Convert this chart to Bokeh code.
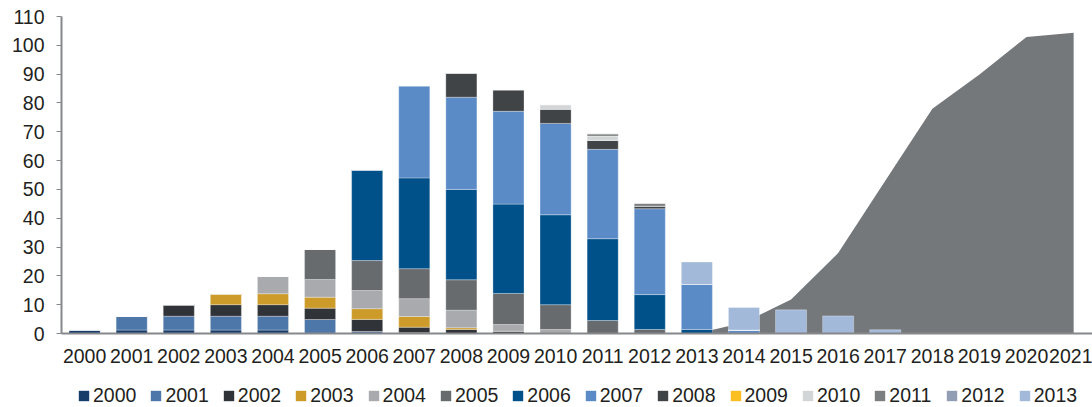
from bokeh.plotting import figure
from bokeh.models import ColumnDataSource, Range1d, FixedTicker, Legend
from bokeh.layouts import column
from bokeh.embed import file_html
from bokeh.resources import INLINE

years = [str(y) for y in range(2000, 2022)]
series = [str(y) for y in range(2000, 2014)]

s2000 = [1.3, 1.2, 1.2, 1.2, 1.2, 0, 0, 0, 0, 0, 0, 0, 0, 0, 0, 0, 0, 0, 0, 0, 0, 0]
s2001 = [0, 4.8, 4.8, 4.8, 4.8, 4.85, 0.7, 0.3, 0, 0, 0, 0, 0, 0, 0, 0, 0, 0, 0, 0, 0, 0]
s2002 = [0, 0, 4.0, 4.0, 4.0, 3.95, 4.2, 1.9, 1.4, 0.8, 0, 0, 0, 0, 0, 0, 0, 0, 0, 0, 0, 0]
s2003 = [0, 0, 0, 3.8, 3.8, 3.8, 3.7, 3.7, 0.6, 0, 0, 0, 0, 0, 0, 0, 0, 0, 0, 0, 0, 0]
s2004 = [0, 0, 0, 0, 6.0, 6.15, 6.3, 6.2, 6.1, 2.3, 1.4, 0, 0, 0, 0, 0, 0, 0, 0, 0, 0, 0]
s2005 = [0, 0, 0, 0, 0, 10.5, 10.4, 10.4, 10.55, 10.8, 8.6, 4.5, 1.4, 0, 0, 0, 0, 0, 0, 0, 0, 0]
s2006 = [0, 0, 0, 0, 0, 0, 31.5, 31.5, 31.35, 31.0, 31.2, 28.4, 12.1, 1.4, 0, 0, 0, 0, 0, 0, 0, 0]
s2007 = [0, 0, 0, 0, 0, 0, 0, 32.0, 32.0, 32.2, 31.7, 31.0, 29.8, 15.6, 1.2, 0, 0, 0, 0, 0, 0, 0]
s2008 = [0, 0, 0, 0, 0, 0, 0, 0, 8.4, 7.5, 4.9, 3.1, 0.9, 0, 0, 0, 0, 0, 0, 0, 0, 0]
s2009 = [0, 0, 0, 0, 0, 0, 0, 0, 0, 0, 0, 0, 0, 0, 0, 0, 0, 0, 0, 0, 0, 0]
s2010 = [0, 0, 0, 0, 0, 0, 0, 0, 0, 0, 1.6, 1.5, 0, 0, 0, 0, 0, 0, 0, 0, 0, 0]
s2011 = [0, 0, 0, 0, 0, 0, 0, 0, 0, 0, 0, 0.8, 1.0, 0, 0, 0, 0, 0, 0, 0, 0, 0]
s2012 = [0, 0, 0, 0, 0, 0, 0, 0, 0, 0, 0, 0, 0, 0, 0, 0, 0, 0, 0, 0, 0, 0]
s2013 = [0, 0, 0, 0, 0, 0, 0, 0, 0, 0, 0, 0, 0, 7.8, 7.8, 8.2, 6.1, 1.3, 0, 0, 0, 0]

area_years = [str(y) for y in range(2013, 2022)]
area_vals = [0, 3.8, 11.8, 27.9, 53.0, 78.0, 89.9, 102.9, 104.4]

colors = ["#173d6a", "#4d77a8", "#303337", "#cc9b29", "#a8aaad", "#686b6e",
          "#00508a", "#5b8bc7", "#414447", "#fbbf22", "#d2d5d6", "#7c7f80",
          "#919eb3", "#a3b9d9"]
area_color = "#75787b"
text_color = "#231f20"
axis_color = "#86888b"
FONT = "Liberation Sans"

data = {"x": list(range(len(years)))}
for name, vals in zip(series, [s2000, s2001, s2002, s2003, s2004, s2005, s2006,
                               s2007, s2008, s2009, s2010, s2011, s2012, s2013]):
    data[name] = vals
src = ColumnDataSource(data)

area_x = [years.index(y) for y in area_years]

MAIN_H = 370
p = figure(width=1092, height=MAIN_H, output_backend="svg", toolbar_location=None,
           x_range=Range1d(-0.49, 21.4), y_range=Range1d(0, 110),
           min_border_left=61, min_border_right=0, min_border_top=16,
           min_border_bottom=MAIN_H - 333)
p.outline_line_color = None
p.grid.visible = False

p.varea(x=area_x, y1=[0] * len(area_x), y2=area_vals, fill_color=area_color)

p.vbar_stack(series, x="x", width=0.66, source=src, color=colors,
             line_color="white", line_alpha=0.3, line_width=1)

xa = p.xaxis[0]
xa.ticker = FixedTicker(ticks=list(range(len(years))))
xa.major_label_overrides = {i: y for i, y in enumerate(years)}
xa.major_tick_line_color = None
xa.minor_tick_line_color = None
xa.axis_line_color = axis_color
xa.axis_line_width = 2
xa.major_label_text_font = FONT
xa.major_label_text_font_size = "19.5px"
xa.major_label_text_color = text_color
xa.major_label_standoff = 9

ya = p.yaxis[0]
ya.ticker = FixedTicker(ticks=list(range(0, 111, 10)))
ya.minor_tick_line_color = None
ya.major_tick_in = 0
ya.major_tick_out = 5
ya.major_tick_line_color = axis_color
ya.major_tick_line_width = 1
ya.axis_line_color = axis_color
ya.axis_line_width = 2
ya.major_label_text_font = FONT
ya.major_label_text_font_size = "19.5px"
ya.major_label_text_color = text_color
ya.major_label_standoff = 12

# legend strip below the chart
leg_fig = figure(width=1092, height=407 - MAIN_H, output_backend="svg",
                 toolbar_location=None, x_range=Range1d(0, 1), y_range=Range1d(0, 1),
                 x_axis_type=None, y_axis_type=None,
                 min_border_left=0, min_border_right=0, min_border_top=0,
                 min_border_bottom=0)
leg_fig.grid.visible = False
leg_fig.outline_line_color = None
items = []
for name, c in zip(series, colors):
    r = leg_fig.vbar(x=[-5], top=[0], width=0.5, fill_color=c, line_color=None)
    items.append((name, [r]))
legend = Legend(items=items, orientation="horizontal", location=(16, 0),
                label_text_font=FONT, label_text_font_size="19.5px",
                label_text_color=text_color, glyph_width=13, glyph_height=13,
                label_standoff=3, label_width=43, spacing=13, padding=0, margin=0,
                border_line_alpha=0, background_fill_alpha=0)
leg_fig.add_layout(legend, "center")

layout = column(p, leg_fig, spacing=0)
open("out.html", "w").write(file_html(layout, INLINE))
